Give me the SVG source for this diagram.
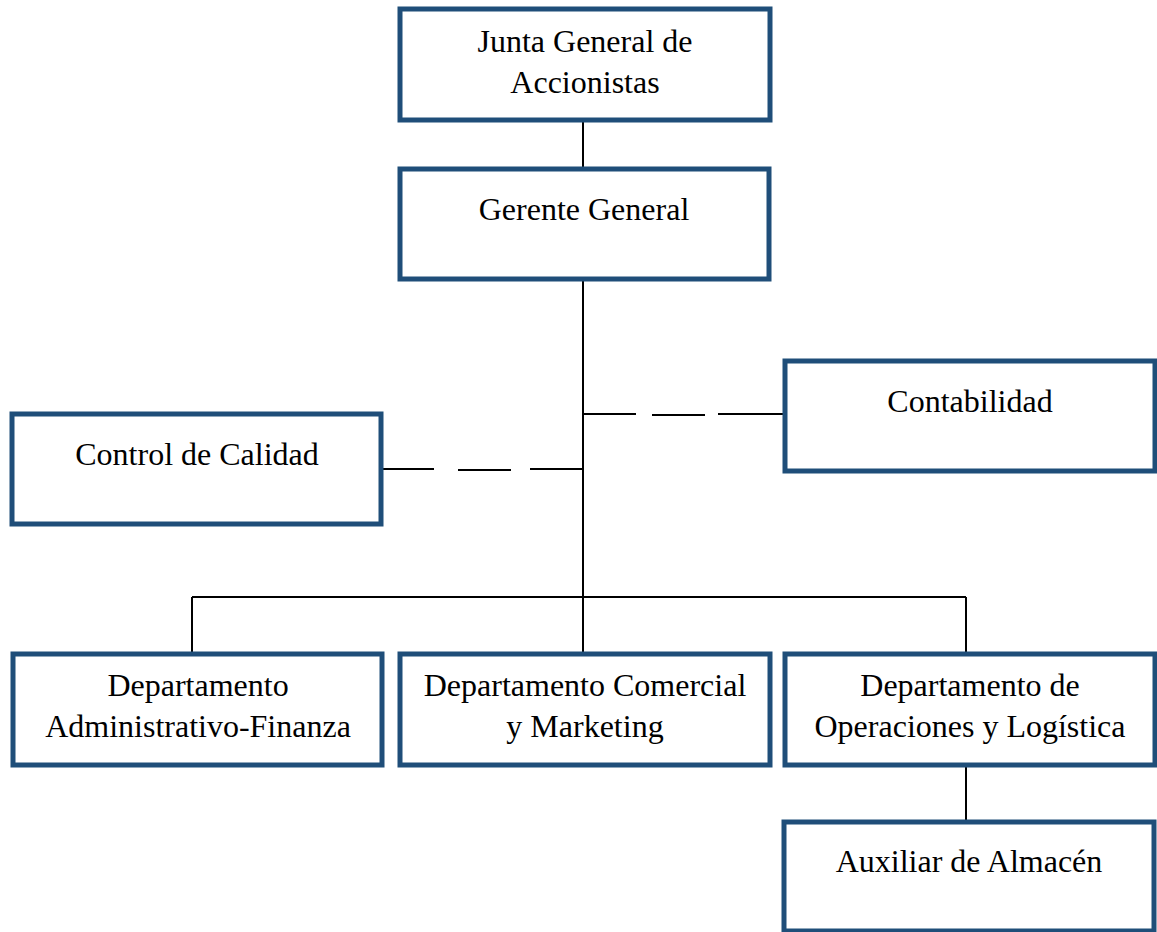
<svg xmlns="http://www.w3.org/2000/svg" width="1157" height="932" viewBox="0 0 1157 932">
<style>
.box{fill:#fff;stroke:#1F4E79;stroke-width:5}
.lbl{font-family:"Liberation Serif","Times New Roman",serif;font-size:32px;fill:#000;text-anchor:middle}
.ln{fill:none;stroke:#000;stroke-width:2}
</style>
<rect width="1157" height="932" fill="#fff"/>
<g id="connectors">
<path class="ln" d="M583,120V169 M583,279V654 M192,597H966 M192,597V654 M966,597V654 M966,765V822"/>
<path class="ln" d="M583,414H636 M652,415H705 M718,414H785"/>
<path class="ln" d="M381,469H434 M458,470H511 M530,469H583"/>
</g>
<g id="junta"><rect class="box" x="400" y="9" width="370" height="111"/>
<text class="lbl" x="585" y="52">Junta General de</text><text class="lbl" x="585" y="93">Accionistas</text></g>
<g id="gerente"><rect class="box" x="400" y="169" width="369" height="110"/>
<text class="lbl" x="584" y="220">Gerente General</text></g>
<g id="contabilidad"><rect class="box" x="785" y="361" width="370" height="110"/>
<text class="lbl" x="970" y="412">Contabilidad</text></g>
<g id="control"><rect class="box" x="12" y="414" width="369" height="110"/>
<text class="lbl" x="197" y="465">Control de Calidad</text></g>
<g id="dep-admin"><rect class="box" x="13" y="654" width="369" height="111"/>
<text class="lbl" x="198" y="696">Departamento</text><text class="lbl" x="198" y="737">Administrativo-Finanza</text></g>
<g id="dep-comercial"><rect class="box" x="400" y="654" width="370" height="111"/>
<text class="lbl" x="585" y="696">Departamento Comercial</text><text class="lbl" x="585" y="737">y Marketing</text></g>
<g id="dep-operaciones"><rect class="box" x="785" y="654" width="370" height="111"/>
<text class="lbl" x="970" y="696">Departamento de</text><text class="lbl" x="970" y="737">Operaciones y Logística</text></g>
<g id="auxiliar"><rect class="box" x="784" y="822" width="370" height="109"/>
<text class="lbl" x="969" y="872">Auxiliar de Almacén</text></g>
</svg>
